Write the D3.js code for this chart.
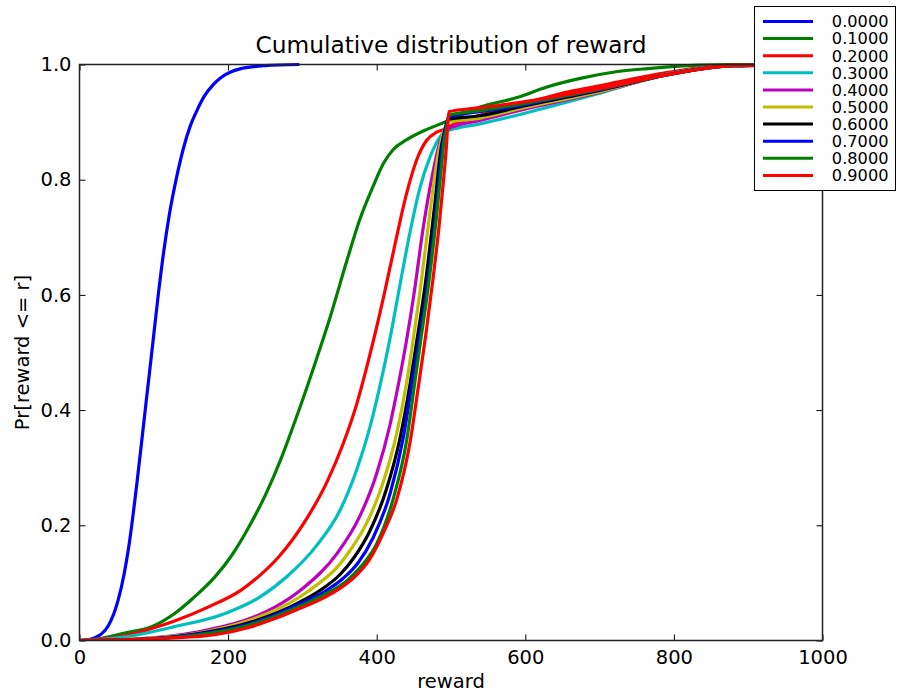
<!DOCTYPE html>
<html>
<head>
<meta charset="utf-8">
<script src="https://cdn.jsdelivr.net/npm/d3@7"></script>
<style>
  body { margin: 0; background: #fff; }
  text { font-family: "DejaVu Sans", sans-serif; fill: #000; }
</style>
</head>
<body>
<div id="chart"></div>
<script>
// -------- data ------------------------------- //
var rates = ["0.0000", "0.1000", "0.2000", "0.3000", "0.4000",
             "0.5000", "0.6000", "0.7000", "0.8000", "0.9000"];

var colors = ["#0000ff", "#008000", "#ff0000", "#00bfbf", "#bf00bf",
              "#bfbf00", "#000000", "#0000ff", "#008000", "#ff0000"];

var xTicks = [0, 200, 400, 600, 800, 1000];
var yTicks = [0.0, 0.2, 0.4, 0.6, 0.8, 1.0];

// reward values and Pr[reward <= r] for each rate
var reward00 = [0, 10, 21, 30, 39, 52, 60, 66, 77, 88, 99, 106, 113, 121, 130, 140, 149, 158, 168, 180, 191, 205, 218, 250, 296];
var prob00 = [0, 0.001, 0.005, 0.012, 0.026, 0.07, 0.115, 0.16, 0.27, 0.395, 0.52, 0.60, 0.672, 0.74, 0.80, 0.855, 0.893, 0.92, 0.945, 0.965, 0.978, 0.988, 0.993, 0.998, 1.0];

var reward01 = [0, 21, 61, 97, 128, 155, 182, 205, 227, 250, 272, 294, 318, 337, 360, 377, 395, 409, 422, 440, 467, 492, 539, 590, 629, 674, 720, 765, 834, 870, 1000];
var prob01 = [0, 0.002, 0.013, 0.024, 0.047, 0.076, 0.11, 0.148, 0.195, 0.252, 0.318, 0.395, 0.485, 0.56, 0.66, 0.73, 0.788, 0.828, 0.852, 0.869, 0.887, 0.90, 0.926, 0.943, 0.961, 0.976, 0.987, 0.993, 0.999, 1.0, 1.0];

var reward02 = [0, 40, 61, 95, 128, 173, 218, 240, 268, 306, 333, 355, 373, 391, 409, 422, 440, 454, 467, 480, 490, 497, 539, 598, 643, 700, 790, 880, 1000];
var prob02 = [0, 0.004, 0.008, 0.02, 0.034, 0.058, 0.088, 0.11, 0.145, 0.212, 0.275, 0.342, 0.41, 0.497, 0.595, 0.672, 0.775, 0.835, 0.868, 0.882, 0.887, 0.892, 0.912, 0.932, 0.948, 0.963, 0.986, 0.999, 1.0];

var reward03 = [0, 60, 128, 196, 241, 280, 318, 351, 373, 391, 404, 418, 431, 445, 458, 472, 485, 492, 497, 539, 598, 643, 700, 790, 880, 1000];
var prob03 = [0, 0.006, 0.024, 0.047, 0.074, 0.112, 0.163, 0.227, 0.296, 0.371, 0.44, 0.525, 0.615, 0.71, 0.785, 0.84, 0.874, 0.884, 0.886, 0.897, 0.915, 0.93, 0.95, 0.983, 0.998, 1.0];

var reward04 = [0, 80, 160, 229, 263, 300, 346, 377, 400, 418, 430, 440, 450, 463, 476, 485, 491, 497, 539, 598, 643, 700, 790, 880, 1000];
var prob04 = [0, 0.003, 0.015, 0.038, 0.058, 0.09, 0.15, 0.215, 0.29, 0.375, 0.45, 0.52, 0.60, 0.72, 0.815, 0.865, 0.882, 0.889, 0.903, 0.922, 0.935, 0.952, 0.982, 0.998, 1.0];

var reward05 = [0, 80, 160, 229, 297, 320, 346, 365, 385, 408, 427, 440, 447, 458, 472, 483, 490, 497, 539, 598, 643, 700, 790, 880, 1000];
var prob05 = [0, 0.003, 0.013, 0.035, 0.076, 0.097, 0.126, 0.158, 0.20, 0.272, 0.36, 0.446, 0.504, 0.603, 0.747, 0.846, 0.883, 0.90, 0.907, 0.925, 0.937, 0.953, 0.982, 0.998, 1.0];

var reward06 = [0, 80, 160, 229, 297, 325, 351, 370, 390, 413, 431, 445, 452, 465, 478, 487, 491, 497, 539, 598, 643, 700, 790, 880, 1000];
var prob06 = [0, 0.002, 0.012, 0.031, 0.067, 0.088, 0.115, 0.145, 0.188, 0.262, 0.349, 0.446, 0.504, 0.615, 0.755, 0.857, 0.883, 0.905, 0.911, 0.928, 0.94, 0.955, 0.982, 0.998, 1.0];

var reward07 = [0, 80, 160, 229, 297, 330, 355, 375, 395, 418, 436, 449, 455, 469, 481, 488, 492, 497, 539, 598, 643, 700, 790, 880, 1000];
var prob07 = [0, 0.002, 0.011, 0.029, 0.064, 0.085, 0.108, 0.135, 0.178, 0.255, 0.354, 0.458, 0.504, 0.625, 0.759, 0.857, 0.885, 0.909, 0.918, 0.93, 0.942, 0.956, 0.982, 0.998, 1.0];

var reward08 = [0, 80, 160, 229, 297, 330, 360, 380, 400, 422, 440, 452, 458, 470, 480, 487, 491, 494, 497, 539, 598, 643, 700, 790, 880, 1000];
var prob08 = [0, 0.002, 0.01, 0.027, 0.06, 0.08, 0.104, 0.13, 0.168, 0.245, 0.345, 0.455, 0.51, 0.62, 0.73, 0.82, 0.87, 0.89, 0.912, 0.92, 0.932, 0.943, 0.957, 0.982, 0.998, 1.0];

var reward09 = [0, 60, 120, 182, 229, 263, 297, 330, 350, 370, 390, 410, 427, 445, 456, 466, 476, 484, 490, 494, 497, 539, 598, 643, 700, 790, 880, 1000];
var prob09 = [0, 0.001, 0.004, 0.01, 0.023, 0.038, 0.056, 0.075, 0.09, 0.11, 0.14, 0.19, 0.245, 0.345, 0.44, 0.53, 0.63, 0.72, 0.80, 0.86, 0.918, 0.925, 0.935, 0.945, 0.958, 0.982, 0.998, 1.0];

var rewards = [reward00, reward01, reward02, reward03, reward04, reward05, reward06, reward07, reward08, reward09];
var probs = [prob00, prob01, prob02, prob03, prob04, prob05, prob06, prob07, prob08, prob09];

// -------- chart ---------- //
var width = 899;
var height = 694;
var margin = { top: 64.5, right: 76.5, bottom: 53.5, left: 79.5 };

var svg = d3
  .select("#chart")
  .append("svg")
  .attr("width", width)
  .attr("height", height);

var x = d3
  .scaleLinear()
  .domain([0, 1000])
  .range([margin.left, width - margin.right]);

var y = d3
  .scaleLinear()
  .domain([0, 1])
  .range([height - margin.bottom, margin.top]);

svg
  .append("defs")
  .append("clipPath")
  .attr("id", "plot-clip")
  .append("rect")
  .attr("x", x(0))
  .attr("y", y(1) - 2)
  .attr("width", x(1000) - x(0))
  .attr("height", y(0) - y(1) + 2);

// the curves
var line = d3
  .line()
  .x((d) => x(d[0]))
  .y((d) => y(d[1]))
  .curve(d3.curveMonotoneX);

svg
  .append("g")
  .attr("clip-path", "url(#plot-clip)")
  .selectAll("path")
  .data(rates)
  .join("path")
  .attr("fill", "none")
  .attr("stroke", (d, i) => colors[i])
  .attr("stroke-width", 3.2)
  .attr("stroke-linejoin", "round")
  .attr("d", (d, i) => line(rewards[i].map((r, j) => [r, probs[i][j]])));

// axes: ticks pointing inward on all four sides
var tickLen = 6;
var axisBottom = d3.axisBottom(x).tickValues(xTicks).tickSize(-tickLen).tickPadding(10).tickFormat(d3.format("d"));
var axisTop = d3.axisTop(x).tickValues(xTicks).tickSize(-tickLen).tickFormat("");
var axisLeft = d3.axisLeft(y).tickValues(yTicks).tickSize(-tickLen).tickPadding(8).tickFormat(d3.format(".1f"));
var axisRight = d3.axisRight(y).tickValues(yTicks).tickSize(-tickLen).tickFormat("");

function styleAxis(g) {
  g.select(".domain").remove();
  g.selectAll(".tick line").attr("stroke", "#000").attr("stroke-width", 1);
  g.selectAll(".tick text").style("font-size", "19.5px").style("font-family", "DejaVu Sans");
}

svg.append("g").attr("transform", "translate(0," + y(0) + ")").call(axisBottom).call(styleAxis);
svg.append("g").attr("transform", "translate(0," + y(1) + ")").call(axisTop).call(styleAxis);
svg.append("g").attr("transform", "translate(" + x(0) + ",0)").call(axisLeft).call(styleAxis);
svg.append("g").attr("transform", "translate(" + x(1000) + ",0)").call(axisRight).call(styleAxis);

// frame
svg
  .append("rect")
  .attr("x", x(0))
  .attr("y", y(1))
  .attr("width", x(1000) - x(0))
  .attr("height", y(0) - y(1))
  .attr("fill", "none")
  .attr("stroke", "#222")
  .attr("stroke-width", 1.5);

// titles
svg
  .append("text")
  .attr("x", (x(0) + x(1000)) / 2)
  .attr("y", 53)
  .attr("text-anchor", "middle")
  .style("font-size", "23.3px")
  .text("Cumulative distribution of reward");

svg
  .append("text")
  .attr("x", (x(0) + x(1000)) / 2)
  .attr("y", 688)
  .attr("text-anchor", "middle")
  .style("font-size", "19.5px")
  .text("reward");

svg
  .append("text")
  .attr("transform", "translate(29," + (y(0) + y(1)) / 2 + ") rotate(-90)")
  .attr("text-anchor", "middle")
  .style("font-size", "19.5px")
  .text("Pr[reward <= r]");

// legend
var legend = svg.append("g").attr("transform", "translate(754.5,6.5)");
legend
  .append("rect")
  .attr("width", 141)
  .attr("height", 184)
  .attr("fill", "#fff")
  .attr("stroke", "#000")
  .attr("stroke-width", 1);

var items = legend
  .selectAll(".item")
  .data(rates)
  .join("g")
  .attr("class", "item")
  .attr("transform", (d, i) => "translate(0," + (15 + i * 17.1) + ")");

items
  .append("line")
  .attr("x1", 8.5)
  .attr("x2", 58.5)
  .attr("stroke", (d, i) => colors[i])
  .attr("stroke-width", 3);

items
  .append("text")
  .attr("x", 134)
  .attr("dy", "0.36em")
  .attr("text-anchor", "end")
  .style("font-size", "16.2px")
  .text((d) => d);
</script>
</body>
</html>
